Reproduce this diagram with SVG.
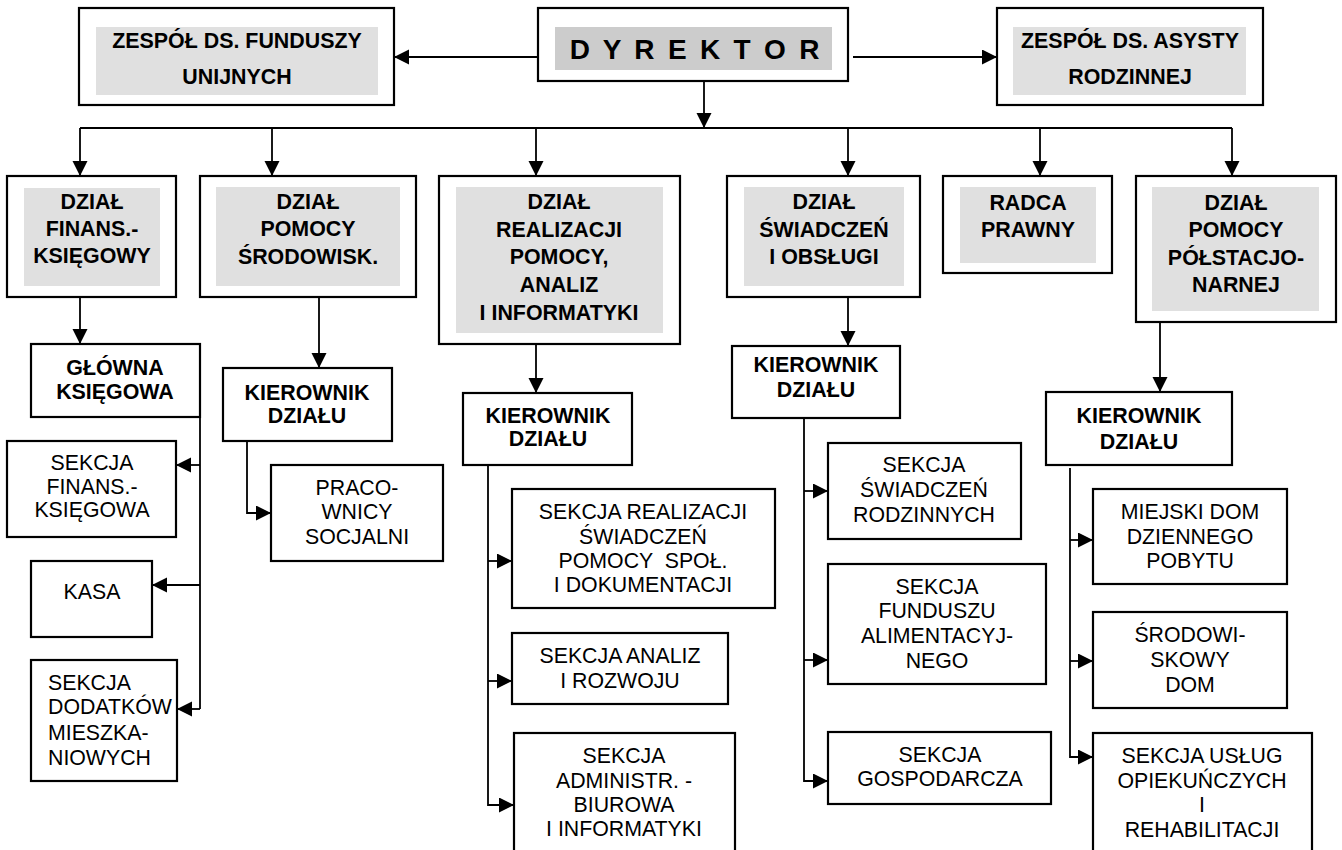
<svg xmlns="http://www.w3.org/2000/svg" width="1342" height="850" viewBox="0 0 1342 850">
<defs>
<marker id="ah" markerUnits="userSpaceOnUse" markerWidth="16" markerHeight="16" refX="15" refY="7.5" orient="auto">
<path d="M0,0 L15,7.5 L0,15 z" fill="#000"/>
</marker>
<style>
.box{fill:#fff;stroke:#000;stroke-width:2.2}
.g1{fill:#e0e0e0}
.g2{fill:#cccccc}
.b{font-family:"Liberation Sans",Arial,sans-serif;font-weight:bold;font-size:21.4px;text-anchor:middle;fill:#000}
.r{font-family:"Liberation Sans",Arial,sans-serif;font-size:21.3px;text-anchor:middle;fill:#000}
.c{fill:none;stroke:#000;stroke-width:1.8}
.a{fill:none;stroke:#000;stroke-width:1.8;marker-end:url(#ah)}
</style>
</defs>
<rect width="1342" height="850" fill="#fff"/>

<g id="connectors">
<line class="a" x1="538" y1="57" x2="394" y2="57"/>
<line class="a" x1="853" y1="57" x2="997" y2="57"/>
<line class="a" x1="704" y1="81" x2="704" y2="128"/>
<line class="c" x1="80" y1="128" x2="1232" y2="128"/>
<line class="a" x1="80" y1="128" x2="80" y2="176"/>
<line class="a" x1="272" y1="128" x2="272" y2="176"/>
<line class="a" x1="536" y1="128" x2="536" y2="176"/>
<line class="a" x1="848" y1="128" x2="848" y2="176"/>
<line class="a" x1="1040" y1="128" x2="1040" y2="176"/>
<line class="a" x1="1232" y1="128" x2="1232" y2="176"/>

<line class="a" x1="80" y1="297" x2="80" y2="344"/>
<line class="c" x1="200" y1="417" x2="200" y2="709"/>
<line class="a" x1="200" y1="465" x2="176" y2="465"/>
<line class="a" x1="200" y1="585" x2="152" y2="585"/>
<line class="a" x1="200" y1="709" x2="177" y2="709"/>

<line class="a" x1="319" y1="297" x2="319" y2="368"/>
<path class="a" d="M247,441 L247,513 L271,513"/>

<line class="a" x1="536" y1="344" x2="536" y2="393"/>
<path class="a" d="M488,465 L488,805 L514,805"/>
<line class="a" x1="488" y1="561" x2="512" y2="561"/>
<line class="a" x1="488" y1="681" x2="512" y2="681"/>

<line class="a" x1="848" y1="297" x2="848" y2="346"/>
<path class="a" d="M804,418 L804,781 L828,781"/>
<line class="a" x1="804" y1="491" x2="828" y2="491"/>
<line class="a" x1="804" y1="660" x2="828" y2="660"/>

<line class="a" x1="1160" y1="322" x2="1160" y2="392"/>
<path class="a" d="M1070,468 L1070,757 L1093,757"/>
<line class="a" x1="1070" y1="540" x2="1093" y2="540"/>
<line class="a" x1="1070" y1="661" x2="1093" y2="661"/>
</g>

<g id="zespol-fundusze">
<rect class="box" x="79" y="8" width="315" height="97"/>
<rect class="g1" x="96" y="27" width="282" height="68"/>
<text class="b" x="237" y="48">ZESPÓŁ DS. FUNDUSZY</text>
<text class="b" x="237" y="84">UNIJNYCH</text>
</g>

<g id="dyrektor">
<rect class="box" x="538" y="8" width="310" height="73"/>
<rect class="g2" x="555" y="27" width="277" height="43"/>
<text class="b" x="696" y="59" style="font-size:28px;letter-spacing:2.8px">D Y R E K T O R</text>
</g>

<g id="zespol-asysty">
<rect class="box" x="997" y="8" width="266" height="97"/>
<rect class="g1" x="1013" y="27" width="233" height="68"/>
<text class="b" x="1130" y="48">ZESPÓŁ DS. ASYSTY</text>
<text class="b" x="1130" y="84">RODZINNEJ</text>
</g>

<g id="dzial-finans">
<rect class="box" x="7" y="176" width="169" height="121"/>
<rect class="g1" x="24" y="188" width="136" height="98"/>
<text class="b" x="92" y="209">DZIAŁ</text>
<text class="b" x="92" y="236">FINANS.-</text>
<text class="b" x="92" y="263">KSIĘGOWY</text>
</g>

<g id="dzial-pomocy-srod">
<rect class="box" x="200" y="176" width="216" height="121"/>
<rect class="g1" x="216" y="187" width="184" height="99"/>
<text class="b" x="308" y="209">DZIAŁ</text>
<text class="b" x="308" y="236">POMOCY</text>
<text class="b" x="308" y="264">ŚRODOWISK.</text>
</g>

<g id="dzial-realizacji">
<rect class="box" x="439" y="176" width="241" height="168"/>
<rect class="g1" x="456" y="187" width="207" height="146"/>
<text class="b" x="559" y="209">DZIAŁ</text>
<text class="b" x="559" y="237">REALIZACJI</text>
<text class="b" x="559" y="264">POMOCY,</text>
<text class="b" x="559" y="292">ANALIZ</text>
<text class="b" x="559" y="320">I INFORMATYKI</text>
</g>

<g id="dzial-swiadczen">
<rect class="box" x="727" y="176" width="193" height="121"/>
<rect class="g1" x="744" y="187" width="160" height="99"/>
<text class="b" x="824" y="209">DZIAŁ</text>
<text class="b" x="824" y="237">ŚWIADCZEŃ</text>
<text class="b" x="824" y="264">I OBSŁUGI</text>
</g>

<g id="radca">
<rect class="box" x="943" y="176" width="169" height="97"/>
<rect class="g1" x="960" y="187" width="136" height="76"/>
<text class="b" x="1028" y="210">RADCA</text>
<text class="b" x="1028" y="237">PRAWNY</text>
</g>

<g id="dzial-polstacjonarnej">
<rect class="box" x="1136" y="176" width="200" height="146"/>
<rect class="g1" x="1152" y="187" width="167" height="124"/>
<text class="b" x="1236" y="210">DZIAŁ</text>
<text class="b" x="1236" y="237">POMOCY</text>
<text class="b" x="1236" y="265">PÓŁSTACJO-</text>
<text class="b" x="1236" y="292">NARNEJ</text>
</g>

<g id="glowna-ksiegowa">
<rect class="box" x="31" y="344" width="169" height="73"/>
<text class="b" x="115" y="375">GŁÓWNA</text>
<text class="b" x="115" y="399">KSIĘGOWA</text>
</g>

<g id="sekcja-finans">
<rect class="box" x="7" y="441" width="169" height="96"/>
<text class="r" x="92" y="470">SEKCJA</text>
<text class="r" x="92" y="494">FINANS.-</text>
<text class="r" x="92" y="517">KSIĘGOWA</text>
</g>

<g id="kasa">
<rect class="box" x="31" y="561" width="121" height="76"/>
<text class="r" x="92" y="599">KASA</text>
</g>

<g id="sekcja-dodatkow">
<rect class="box" x="31" y="660" width="146" height="121"/>
<text class="r" x="48" y="690" style="text-anchor:start">SEKCJA</text>
<text class="r" x="48" y="714" style="text-anchor:start">DODATKÓW</text>
<text class="r" x="48" y="740" style="text-anchor:start">MIESZKA-</text>
<text class="r" x="48" y="765" style="text-anchor:start">NIOWYCH</text>
</g>

<g id="kierownik-srod">
<rect class="box" x="223" y="368" width="169" height="73"/>
<text class="b" x="307" y="400">KIEROWNIK</text>
<text class="b" x="307" y="423">DZIAŁU</text>
</g>

<g id="pracownicy">
<rect class="box" x="271" y="465" width="172" height="96"/>
<text class="r" x="357" y="495">PRACO-</text>
<text class="r" x="357" y="519">WNICY</text>
<text class="r" x="357" y="544">SOCJALNI</text>
</g>

<g id="kierownik-realizacji">
<rect class="box" x="463" y="393" width="169" height="72"/>
<text class="b" x="548" y="423">KIEROWNIK</text>
<text class="b" x="548" y="446">DZIAŁU</text>
</g>

<g id="sekcja-realizacji">
<rect class="box" x="512" y="489" width="263" height="119"/>
<text class="r" x="643" y="519">SEKCJA REALIZACJI</text>
<text class="r" x="643" y="544">ŚWIADCZEŃ</text>
<text class="r" x="643" y="568" xml:space="preserve">POMOCY  SPOŁ.</text>
<text class="r" x="643" y="592">I DOKUMENTACJI</text>
</g>

<g id="sekcja-analiz">
<rect class="box" x="512" y="633" width="216" height="71"/>
<text class="r" x="620" y="663">SEKCJA ANALIZ</text>
<text class="r" x="620" y="688">I ROZWOJU</text>
</g>

<g id="sekcja-administr">
<rect class="box" x="514" y="733" width="221" height="130"/>
<text class="r" x="624" y="763">SEKCJA</text>
<text class="r" x="624" y="788">ADMINISTR. -</text>
<text class="r" x="624" y="812">BIUROWA</text>
<text class="r" x="624" y="836">I INFORMATYKI</text>
</g>

<g id="kierownik-swiadczen">
<rect class="box" x="732" y="346" width="168" height="72"/>
<text class="b" x="816" y="372">KIEROWNIK</text>
<text class="b" x="816" y="397">DZIAŁU</text>
</g>

<g id="sekcja-swiadczen">
<rect class="box" x="828" y="443" width="193" height="96"/>
<text class="r" x="924" y="472">SEKCJA</text>
<text class="r" x="924" y="497">ŚWIADCZEŃ</text>
<text class="r" x="924" y="522">RODZINNYCH</text>
</g>

<g id="sekcja-funduszu">
<rect class="box" x="828" y="564" width="218" height="120"/>
<text class="r" x="937" y="594">SEKCJA</text>
<text class="r" x="937" y="618">FUNDUSZU</text>
<text class="r" x="937" y="643">ALIMENTACYJ-</text>
<text class="r" x="937" y="668">NEGO</text>
</g>

<g id="sekcja-gospodarcza">
<rect class="box" x="828" y="732" width="223" height="72"/>
<text class="r" x="940" y="762">SEKCJA</text>
<text class="r" x="940" y="786">GOSPODARCZA</text>
</g>

<g id="kierownik-polstac">
<rect class="box" x="1046" y="392" width="186" height="73"/>
<text class="b" x="1139" y="423">KIEROWNIK</text>
<text class="b" x="1139" y="449">DZIAŁU</text>
</g>

<g id="miejski-dom">
<rect class="box" x="1093" y="489" width="194" height="95"/>
<text class="r" x="1190" y="519">MIEJSKI DOM</text>
<text class="r" x="1190" y="544">DZIENNEGO</text>
<text class="r" x="1190" y="568">POBYTU</text>
</g>

<g id="srodowiskowy-dom">
<rect class="box" x="1093" y="612" width="194" height="96"/>
<text class="r" x="1190" y="642">ŚRODOWI-</text>
<text class="r" x="1190" y="667">SKOWY</text>
<text class="r" x="1190" y="692">DOM</text>
</g>

<g id="sekcja-uslug">
<rect class="box" x="1093" y="733" width="219" height="130"/>
<text class="r" x="1202" y="763">SEKCJA USŁUG</text>
<text class="r" x="1202" y="788">OPIEKUŃCZYCH</text>
<text class="r" x="1202" y="812">I</text>
<text class="r" x="1202" y="837">REHABILITACJI</text>
</g>
</svg>
